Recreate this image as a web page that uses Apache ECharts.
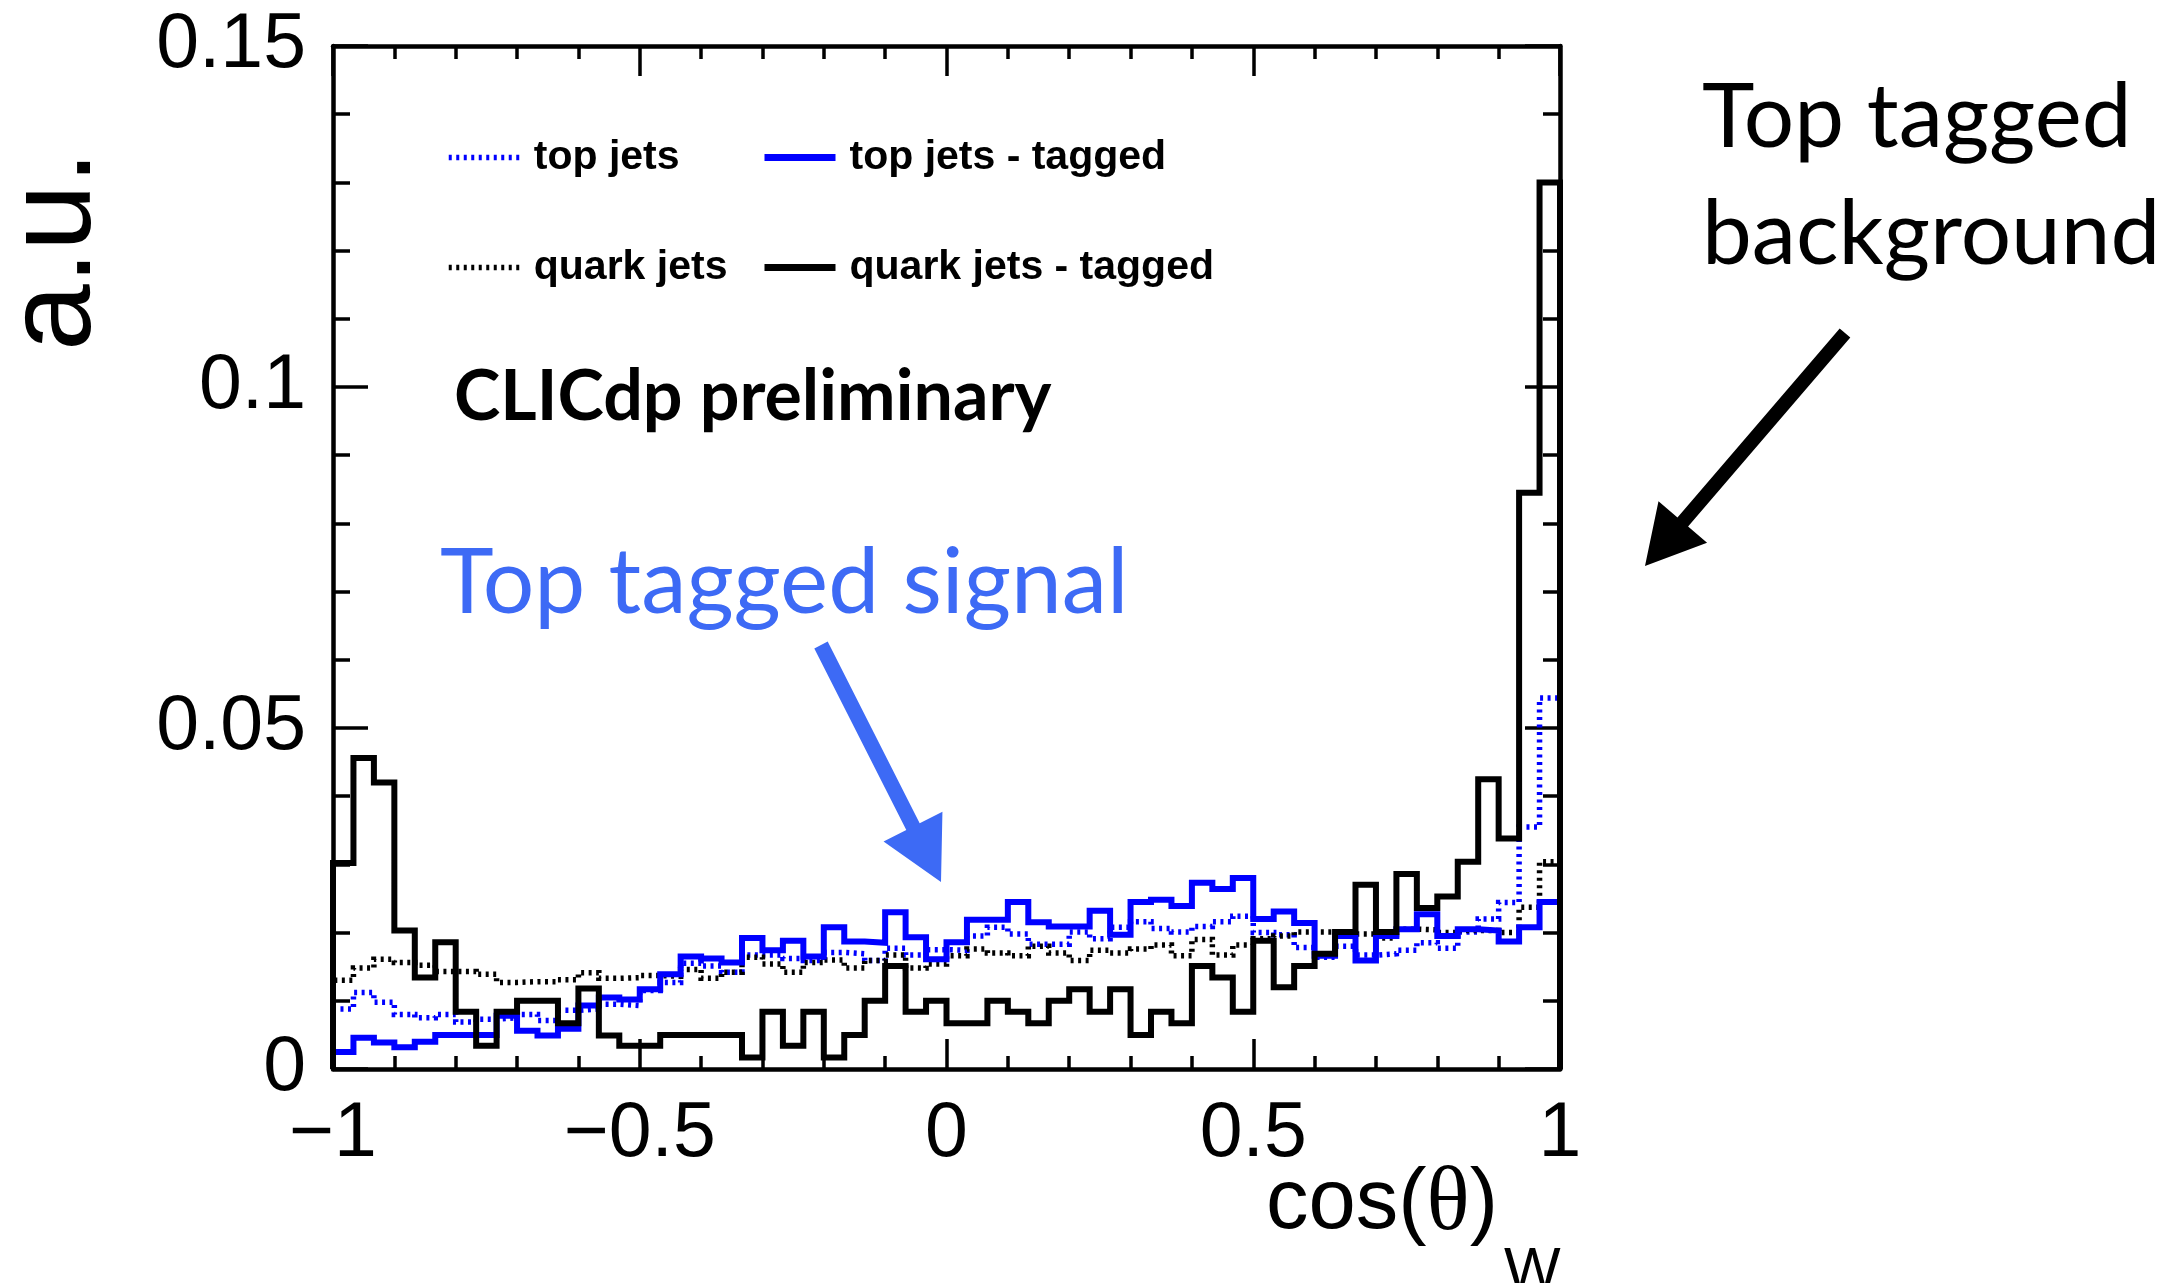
<!DOCTYPE html>
<html>
<head>
<meta charset="utf-8">
<script src="https://cdn.jsdelivr.net/npm/echarts@6/dist/echarts.min.js"></script>
<style>
  html, body { margin: 0; padding: 0; background: #fff; }
  #chart { width: 2167px; height: 1283px; }
</style>
</head>
<body>
<div id="chart"></div>
<script>
// ---- Data ----
const BIN_MIN = -1;
const BIN_MAX = 1;
const N_BINS = 60;

const seriesNames = ['top jets', 'top jets - tagged', 'quark jets', 'quark jets - tagged'];

const topJets = [
  0.0088, 0.0112, 0.0098, 0.0080, 0.0075, 0.0080, 0.0069, 0.0073, 0.0075, 0.0080,
  0.0071, 0.0086, 0.0088, 0.0095, 0.0093, 0.0115, 0.0127, 0.0155, 0.0151, 0.0142,
  0.0167, 0.0167, 0.0162, 0.0159, 0.0171, 0.0169, 0.0159, 0.0177, 0.0167, 0.0175,
  0.0174, 0.0195, 0.0208, 0.0198, 0.0183, 0.0183, 0.0201, 0.0191, 0.0208, 0.0216,
  0.0206, 0.0201, 0.0209, 0.0216, 0.0224, 0.0200, 0.0197, 0.0178, 0.0164, 0.0180,
  0.0167, 0.0169, 0.0174, 0.0185, 0.0177, 0.0201, 0.0220, 0.0244, 0.0355, 0.0544
];

const topJetsTagged = [
  0.0025, 0.0046, 0.0039, 0.0032, 0.0040, 0.0050, 0.0050, 0.0050, 0.0078, 0.0056,
  0.0049, 0.0059, 0.0093, 0.0105, 0.0102, 0.0117, 0.0139, 0.0165, 0.0162, 0.0156,
  0.0192, 0.0174, 0.0188, 0.0165, 0.0208, 0.0187, 0.0185, 0.0230, 0.0193, 0.0161,
  0.0186, 0.0219, 0.0219, 0.0245, 0.0215, 0.0209, 0.0209, 0.0232, 0.0197, 0.0245,
  0.0248, 0.0239, 0.0273, 0.0264, 0.0280, 0.0220, 0.0231, 0.0214, 0.0166, 0.0195,
  0.0159, 0.0195, 0.0205, 0.0227, 0.0195, 0.0205, 0.0203, 0.0187, 0.0208, 0.0245
];

const quarkJets = [
  0.0130, 0.0148, 0.0161, 0.0156, 0.0152, 0.0143, 0.0143, 0.0139, 0.0127, 0.0128,
  0.0128, 0.0131, 0.0141, 0.0133, 0.0134, 0.0137, 0.0136, 0.0146, 0.0133, 0.0142,
  0.0164, 0.0154, 0.0142, 0.0156, 0.0160, 0.0148, 0.0159, 0.0167, 0.0148, 0.0154,
  0.0166, 0.0176, 0.0170, 0.0166, 0.0180, 0.0170, 0.0159, 0.0174, 0.0170, 0.0176,
  0.0182, 0.0166, 0.0190, 0.0167, 0.0182, 0.0191, 0.0195, 0.0201, 0.0201, 0.0198,
  0.0198, 0.0192, 0.0205, 0.0204, 0.0200, 0.0203, 0.0203, 0.0200, 0.0237, 0.0304
];

const quarkJetsTagged = [
  0.0302, 0.0456, 0.0420, 0.0203, 0.0134, 0.0186, 0.0084, 0.0034, 0.0084, 0.0100,
  0.0100, 0.0067, 0.0118, 0.0049, 0.0034, 0.0034, 0.0050, 0.0050, 0.0050, 0.0050,
  0.0017, 0.0084, 0.0034, 0.0084, 0.0017, 0.0050, 0.0100, 0.0151, 0.0084, 0.0100,
  0.0067, 0.0067, 0.0100, 0.0084, 0.0067, 0.0100, 0.0117, 0.0084, 0.0117, 0.0050,
  0.0084, 0.0067, 0.0151, 0.0134, 0.0084, 0.0188, 0.0120, 0.0151, 0.0169, 0.0201,
  0.0270, 0.0201, 0.0286, 0.0236, 0.0253, 0.0304, 0.0425, 0.0338, 0.0845, 0.1300
];

const xTickLabels = ['\u22121', '\u22120.5', '0', '0.5', '1'];
const yTickLabels = ['0', '0.05', '0.1', '0.15'];

// ---- Build step-histogram point lists from the arrays ----
const binWidth = (BIN_MAX - BIN_MIN) / N_BINS;
const binLowEdges = Array.from({ length: N_BINS }, (_, i) => BIN_MIN + i * binWidth);

function histPoints(vals) {
  const pts = [[BIN_MIN, 0]];
  vals.forEach((v, i) => pts.push([binLowEdges[i], v]));
  pts.push([BIN_MAX, vals[vals.length - 1]]);
  pts.push([BIN_MAX, 0]);
  return pts;
}

const BLUE = '#0000ff';
const BLACK = '#000000';
const DOT = [3, 4.5];

function histSeries(name, vals, color, dashed) {
  return {
    name: name,
    type: 'line',
    step: 'end',
    data: histPoints(vals),
    symbol: 'none',
    xAxisIndex: 0,
    yAxisIndex: 0,
    lineStyle: { color: color, width: dashed ? 5.5 : 6, type: dashed ? DOT : 'solid', join: 'miter', cap: 'butt' },
    itemStyle: { color: color },
    emphasis: { disabled: true },
    silent: true
  };
}

// ---- Arrow helper (annotation decoration) ----
function arrowPoints(tail, tip, shaftW, headL, headW) {
  const dx = tip[0] - tail[0], dy = tip[1] - tail[1];
  const len = Math.hypot(dx, dy);
  const ux = dx / len, uy = dy / len;
  const px = -uy, py = ux;
  const bx = tip[0] - ux * headL, by = tip[1] - uy * headL;
  return [
    [tail[0] + px * shaftW / 2, tail[1] + py * shaftW / 2],
    [bx + px * shaftW / 2, by + py * shaftW / 2],
    [bx + px * headW / 2, by + py * headW / 2],
    [tip[0], tip[1]],
    [bx - px * headW / 2, by - py * headW / 2],
    [bx - px * shaftW / 2, by - py * shaftW / 2],
    [tail[0] - px * shaftW / 2, tail[1] - py * shaftW / 2]
  ];
}

const SIGNAL_BLUE = '#3d6af5';
const SANS = '"Liberation Sans", Arial, Helvetica, sans-serif';
const AVENIR = 'Lato, "Open Sans", sans-serif';

const axisLineStyle = { color: '#000', width: 4.5 };
const tickLineStyle = { color: '#000', width: 3.5 };

function xAxisCfg(pos, showLabels) {
  return {
    type: 'value', gridIndex: 0, position: pos,
    min: BIN_MIN, max: BIN_MAX, interval: 0.5,
    axisLine: { show: true, onZero: false, lineStyle: axisLineStyle },
    axisTick: { show: true, inside: true, length: 30, lineStyle: tickLineStyle },
    minorTick: { show: true, splitNumber: 5, length: 13, lineStyle: tickLineStyle },
    splitLine: { show: false }, minorSplitLine: { show: false },
    axisLabel: {
      show: showLabels, margin: 27, fontSize: 77, color: '#000', fontFamily: SANS,
      formatter: function (v) { return xTickLabels[Math.round((v - BIN_MIN) / 0.5)]; }
    }
  };
}
function yAxisCfg(pos, showLabels) {
  return {
    type: 'value', gridIndex: 0, position: pos,
    min: 0, max: 0.15, interval: 0.05,
    axisLine: { show: true, onZero: false, lineStyle: axisLineStyle },
    axisTick: { show: true, inside: true, length: 35, lineStyle: tickLineStyle },
    minorTick: { show: true, splitNumber: 5, length: 17, lineStyle: tickLineStyle },
    splitLine: { show: false }, minorSplitLine: { show: false },
    axisLabel: {
      show: showLabels, margin: 27, fontSize: 77, color: '#000', fontFamily: SANS,
      formatter: function (v) { return yTickLabels[Math.round(v / 0.05)]; }
    }
  };
}

function legendCfg(name, left, rowY, lw) {
  return {
    data: [name],
    left: left, top: rowY - 21,
    orient: 'horizontal',
    padding: 0,
    itemWidth: 71, itemHeight: 20,
    selectedMode: false,
    lineStyle: { width: lw },
    itemStyle: { opacity: 0, color: 'rgba(0,0,0,0)', borderWidth: 0 },
    textStyle: { fontSize: 41, fontWeight: 'bold', color: '#000', fontFamily: SANS, padding: [0, 0, 0, 9] }
  };
}

const option = {
  backgroundColor: '#ffffff',
  animation: false,
  grid: { left: 333, top: 46, width: 1227, height: 1023, containLabel: false },
  xAxis: [xAxisCfg('bottom', true), xAxisCfg('top', false)],
  yAxis: [yAxisCfg('left', true), yAxisCfg('right', false)],
  legend: [
    legendCfg(seriesNames[0], 446, 158, 5.5),
    legendCfg(seriesNames[1], 761, 158, 7),
    legendCfg(seriesNames[2], 446, 268, 5.5),
    legendCfg(seriesNames[3], 761, 268, 7)
  ],
  series: [
    histSeries(seriesNames[0], topJets, BLUE, true),
    histSeries(seriesNames[2], quarkJets, BLACK, true),
    histSeries(seriesNames[1], topJetsTagged, BLUE, false),
    histSeries(seriesNames[3], quarkJetsTagged, BLACK, false)
  ],
  graphic: [
    { type: 'text', x: 57, y: 251, rotation: Math.PI / 2, z: 100,
      style: { text: 'a.u.', font: '120px ' + SANS, fill: '#000', align: 'center', verticalAlign: 'middle', textAlign: 'center', textVerticalAlign: 'middle' } },
    { type: 'text', x: 1266, y: 1205, z: 100,
      style: { text: '{a|cos(}{t|\u03b8}{a|)}', fill: '#000', align: 'left', verticalAlign: 'middle', textAlign: 'left', textVerticalAlign: 'middle',
        rich: { a: { fontSize: 85, fontFamily: SANS, fill: '#000', color: '#000' }, t: { fontSize: 90, fontFamily: '"Liberation Serif", "DejaVu Serif", serif', fill: '#000', color: '#000' } } } },
    { type: 'text', x: 1504, y: 1272, z: 100,
      style: { text: 'W', font: '60px ' + SANS, fill: '#000', align: 'left', verticalAlign: 'middle', textAlign: 'left', textVerticalAlign: 'middle' } },
    { type: 'text', x: 454, y: 397, z: 100,
      style: { text: 'CLICdp preliminary', font: 'bold 70px ' + AVENIR, fill: '#000', align: 'left', verticalAlign: 'middle', textAlign: 'left', textVerticalAlign: 'middle' } },
    { type: 'text', x: 440, y: 584, z: 100,
      style: { text: 'Top tagged signal', font: '91px ' + AVENIR, fill: SIGNAL_BLUE, align: 'left', verticalAlign: 'middle', textAlign: 'left', textVerticalAlign: 'middle' } },
    { type: 'text', x: 1702, y: 118, z: 100,
      style: { text: 'Top tagged', font: '89px ' + AVENIR, fill: '#000', align: 'left', verticalAlign: 'middle', textAlign: 'left', textVerticalAlign: 'middle' } },
    { type: 'text', x: 1702, y: 235, z: 100,
      style: { text: 'background', font: '89px ' + AVENIR, fill: '#000', align: 'left', verticalAlign: 'middle', textAlign: 'left', textVerticalAlign: 'middle' } },
    { type: 'polygon', z: 100, shape: { points: arrowPoints([821, 645], [941, 882], 15, 62, 66) }, style: { fill: SIGNAL_BLUE } },
    { type: 'polygon', z: 100, shape: { points: arrowPoints([1845, 333], [1645, 566], 14, 58, 64) }, style: { fill: '#000' } }
  ]
};

const chart = echarts.init(document.getElementById('chart'), null, { renderer: 'canvas', width: 2167, height: 1283 });
chart.setOption(option);
</script>
</body>
</html>
